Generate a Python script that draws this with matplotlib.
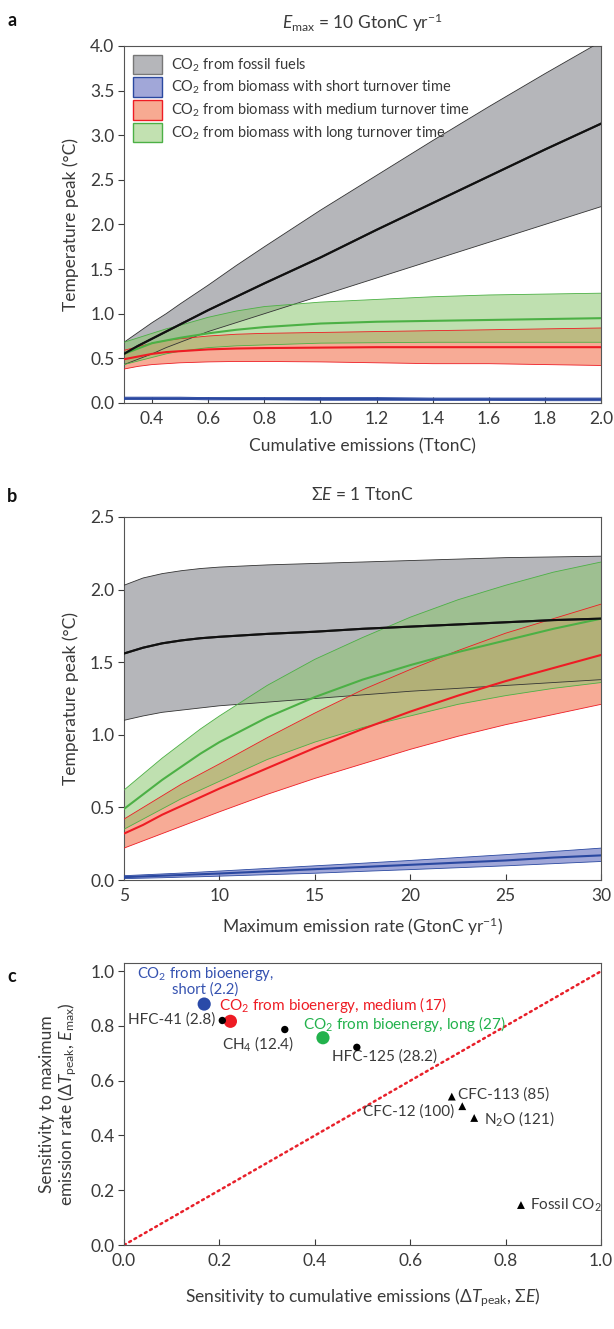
import matplotlib
matplotlib.use("Agg")
import matplotlib.pyplot as plt
from matplotlib.patches import Patch
import numpy as np

plt.rcParams["font.family"] = ["Lato", "DejaVu Sans"]
plt.rcParams["mathtext.fontset"] = "custom"
plt.rcParams["mathtext.rm"] = "Lato"
plt.rcParams["mathtext.it"] = "Lato:italic"
plt.rcParams["mathtext.bf"] = "Lato:bold"

# ── panel a: Emax = 10 GtonC/yr, x = cumulative emissions (TtonC) ────────────
xa = [0.3, 0.35, 0.4, 0.45, 0.5, 0.6, 0.7, 0.8, 1.0, 1.2, 1.4, 1.6, 1.8, 2.0]
a_fossil_mid = [0.55, 0.64, 0.72, 0.80, 0.88, 1.04, 1.19, 1.34, 1.63, 1.94, 2.24, 2.54, 2.84, 3.13]
a_fossil_lo  = [0.43, 0.49, 0.55, 0.62, 0.68, 0.80, 0.90, 1.00, 1.20, 1.40, 1.60, 1.80, 2.00, 2.20]
a_fossil_hi  = [0.68, 0.79, 0.90, 1.00, 1.11, 1.32, 1.54, 1.75, 2.16, 2.55, 2.94, 3.32, 3.69, 4.05]
a_short_mid  = [0.05, 0.05, 0.05, 0.05, 0.05, 0.05, 0.045, 0.045, 0.045, 0.045, 0.04, 0.04, 0.04, 0.04]
a_short_lo   = [0.04, 0.04, 0.04, 0.04, 0.04, 0.035, 0.035, 0.035, 0.03, 0.03, 0.03, 0.03, 0.025, 0.025]
a_short_hi   = [0.065, 0.065, 0.065, 0.065, 0.065, 0.06, 0.06, 0.06, 0.06, 0.06, 0.055, 0.055, 0.055, 0.055]
a_med_mid    = [0.49, 0.52, 0.55, 0.57, 0.58, 0.60, 0.61, 0.615, 0.62, 0.625, 0.625, 0.625, 0.625, 0.625]
a_med_lo     = [0.38, 0.41, 0.43, 0.44, 0.45, 0.46, 0.465, 0.465, 0.46, 0.45, 0.44, 0.44, 0.43, 0.42]
a_med_hi     = [0.59, 0.63, 0.67, 0.70, 0.72, 0.75, 0.77, 0.78, 0.79, 0.80, 0.81, 0.82, 0.83, 0.84]
a_long_mid   = [0.55, 0.61, 0.67, 0.70, 0.73, 0.78, 0.82, 0.85, 0.89, 0.91, 0.92, 0.93, 0.94, 0.95]
a_long_lo    = [0.43, 0.47, 0.51, 0.55, 0.58, 0.62, 0.64, 0.65, 0.67, 0.675, 0.68, 0.68, 0.68, 0.68]
a_long_hi    = [0.68, 0.73, 0.78, 0.83, 0.87, 0.96, 1.03, 1.08, 1.13, 1.16, 1.19, 1.21, 1.22, 1.23]

# ── panel b: sum E = 1 TtonC, x = max emission rate (GtonC/yr) ───────────────
xb = [5, 6, 7, 8, 9, 10, 12.5, 15, 17.5, 20, 22.5, 25, 27.5, 30]
b_fossil_mid = [1.56, 1.60, 1.63, 1.65, 1.665, 1.675, 1.695, 1.71, 1.73, 1.745, 1.76, 1.775, 1.79, 1.80]
b_fossil_lo  = [1.10, 1.13, 1.155, 1.17, 1.185, 1.20, 1.225, 1.25, 1.275, 1.30, 1.32, 1.34, 1.36, 1.38]
b_fossil_hi  = [2.03, 2.08, 2.11, 2.13, 2.145, 2.155, 2.17, 2.18, 2.19, 2.20, 2.21, 2.22, 2.225, 2.23]
b_short_mid  = [0.02, 0.025, 0.03, 0.035, 0.04, 0.045, 0.06, 0.075, 0.09, 0.105, 0.12, 0.135, 0.155, 0.17]
b_short_lo   = [0.01, 0.013, 0.016, 0.02, 0.023, 0.027, 0.037, 0.047, 0.06, 0.072, 0.085, 0.098, 0.113, 0.128]
b_short_hi   = [0.03, 0.036, 0.042, 0.048, 0.055, 0.062, 0.08, 0.098, 0.116, 0.135, 0.155, 0.175, 0.197, 0.22]
b_med_mid    = [0.32, 0.38, 0.45, 0.51, 0.57, 0.63, 0.77, 0.91, 1.04, 1.16, 1.27, 1.37, 1.46, 1.55]
b_med_lo     = [0.22, 0.27, 0.32, 0.37, 0.42, 0.47, 0.59, 0.70, 0.80, 0.90, 0.99, 1.07, 1.14, 1.21]
b_med_hi     = [0.42, 0.50, 0.58, 0.66, 0.73, 0.80, 0.98, 1.15, 1.31, 1.45, 1.58, 1.70, 1.80, 1.90]
b_long_mid   = [0.49, 0.59, 0.69, 0.78, 0.87, 0.95, 1.12, 1.26, 1.38, 1.48, 1.57, 1.65, 1.73, 1.80]
b_long_lo    = [0.35, 0.42, 0.49, 0.56, 0.62, 0.68, 0.83, 0.95, 1.05, 1.13, 1.21, 1.27, 1.32, 1.36]
b_long_hi    = [0.62, 0.73, 0.84, 0.94, 1.04, 1.13, 1.34, 1.52, 1.67, 1.81, 1.93, 2.03, 2.12, 2.19]

# ── panel c: sensitivities ──────────────────────────────────────────────────
bio_names = ["short", "medium", "long"]
bio_x = [0.168, 0.223, 0.417]
bio_y = [0.880, 0.817, 0.757]
dot_names = ["HFC-41 (2.8)", "CH$_4$ (12.4)", "HFC-125 (28.2)"]
dot_x = [0.206, 0.337, 0.488]
dot_y = [0.820, 0.787, 0.722]
tri_names = ["CFC-113 (85)", "CFC-12 (100)", "N$_2$O (121)", "Fossil CO$_2$"]
tri_x = [0.687, 0.709, 0.734, 0.832]
tri_y = [0.542, 0.507, 0.464, 0.146]

GRAY_F, GRAY_E = "#b5b6ba", "#333333"
BLUE_F, BLUE_L = "#7f88cc", "#2a48a0"
RED_F, RED_L = "#f4886a", "#ee1c24"
GRN_F, GRN_L = "#8cc870", "#4cb045"
TXT = "#3a3a3a"


def bands(ax, x, sets):
    # sets: (lo, mid, hi, face, line, alpha)
    for lo, mid, hi, face, line, alpha in sets:
        ax.fill_between(x, lo, hi, facecolor=face, alpha=alpha,
                        edgecolor="none", zorder=2)
        ax.plot(x, lo, color=line, lw=0.6, zorder=3)
        ax.plot(x, hi, color=line, lw=0.6, zorder=3)
    for lo, mid, hi, face, line, alpha in sets:
        ax.plot(x, mid, color=line, lw=1.5, zorder=4)


def style(ax):
    for s in ax.spines.values():
        s.set_color("#555555")
        s.set_linewidth(0.8)
    ax.tick_params(axis="x", direction="in", length=4, labelsize=12.5,
                   colors=TXT, pad=6, width=0.8)
    ax.tick_params(axis="y", direction="out", length=4, labelsize=12.5,
                   colors=TXT, pad=3, width=0.8)


fig = plt.figure(figsize=(6.14, 13.29), dpi=100)

# panel a
ax1 = fig.add_axes([0.202, 0.6968, 0.777, 0.2686])
bands(ax1, xa, [
    (a_fossil_lo, a_fossil_mid, a_fossil_hi, GRAY_F, GRAY_E, 1.0),
    (a_short_lo, a_short_mid, a_short_hi, BLUE_F, BLUE_L, 0.75),
    (a_med_lo, a_med_mid, a_med_hi, RED_F, RED_L, 0.7),
    (a_long_lo, a_long_mid, a_long_hi, GRN_F, GRN_L, 0.55),
])
ax1.plot(xa, a_fossil_mid, color="#111111", lw=1.5, zorder=5)
ax1.set_xlim(0.3, 2.0)
ax1.set_ylim(0, 4.0)
ax1.set_xticks(np.arange(0.4, 2.01, 0.2))
ax1.set_yticks(np.arange(0, 4.01, 0.5))
ax1.xaxis.set_major_formatter(plt.FormatStrFormatter("%.1f"))
ax1.yaxis.set_major_formatter(plt.FormatStrFormatter("%.1f"))
style(ax1)
ax1.set_xlabel("Cumulative emissions (TtonC)", fontsize=12.5, color=TXT, labelpad=8)
ax1.set_ylabel("Temperature peak (°C)", fontsize=12.5, color=TXT, labelpad=8)
ax1.set_title(r"$E_{\rm max}$ = 10 GtonC yr$^{-1}$", fontsize=12.5, color=TXT, pad=12)
handles = [
    Patch(facecolor=GRAY_F, edgecolor="#777777", label="CO$_2$ from fossil fuels"),
    Patch(facecolor="#a1a7d8", edgecolor=BLUE_L, label="CO$_2$ from biomass with short turnover time"),
    Patch(facecolor="#f7aa92", edgecolor=RED_L, label="CO$_2$ from biomass with medium turnover time"),
    Patch(facecolor="#c2e1b1", edgecolor=GRN_L, label="CO$_2$ from biomass with long turnover time"),
]
leg = ax1.legend(handles=handles, loc="upper left", frameon=False, fontsize=10.5,
                 handlelength=2.0, handleheight=1.7, labelspacing=0.2,
                 borderaxespad=0.2, handletextpad=0.6)
for t in leg.get_texts():
    t.set_color(TXT)

# panel b
ax2 = fig.add_axes([0.202, 0.3378, 0.777, 0.2732])
bands(ax2, xb, [
    (b_fossil_lo, b_fossil_mid, b_fossil_hi, GRAY_F, GRAY_E, 1.0),
    (b_short_lo, b_short_mid, b_short_hi, BLUE_F, BLUE_L, 0.75),
    (b_med_lo, b_med_mid, b_med_hi, RED_F, RED_L, 0.7),
    (b_long_lo, b_long_mid, b_long_hi, GRN_F, GRN_L, 0.55),
])
ax2.plot(xb, b_fossil_mid, color="#111111", lw=1.5, zorder=5)
ax2.set_xlim(5, 30)
ax2.set_ylim(0, 2.5)
ax2.set_xticks(np.arange(5, 31, 5))
ax2.set_yticks(np.arange(0, 2.51, 0.5))
ax2.yaxis.set_major_formatter(plt.FormatStrFormatter("%.1f"))
style(ax2)
ax2.set_xlabel("Maximum emission rate (GtonC yr$^{-1}$)", fontsize=12.5, color=TXT, labelpad=8)
ax2.set_ylabel("Temperature peak (°C)", fontsize=12.5, color=TXT, labelpad=8)
ax2.set_title(r"$\Sigma E$ = 1 TtonC", fontsize=12.5, color=TXT, pad=12)

# panel c
ax3 = fig.add_axes([0.202, 0.0632, 0.777, 0.2122])
ax3.plot([0, 1], [0, 1], color="#e8202a", lw=1.8, ls=(0, (0.8, 1.6)),
         dash_capstyle="round", zorder=2)
ax3.scatter(bio_x, bio_y, s=90, c=["#2a4aa8", "#ee1c24", "#22b24c"], zorder=4,
            edgecolors="none")
ax3.scatter(dot_x, dot_y, s=28, c="black", zorder=4, edgecolors="none")
ax3.scatter(tri_x, tri_y, s=32, c="black", marker="^", zorder=4, edgecolors="none")
fs = 11
ax3.text(0.17, 0.990, "CO$_2$ from bioenergy,", ha="center", va="center",
         color="#3552b0", fontsize=10.7)
ax3.text(0.17, 0.934, "short (2.2)", ha="center", va="center",
         color="#3552b0", fontsize=10.7)
ax3.text(0.200, 0.878, "CO$_2$ from bioenergy, medium (17)", ha="left", va="center",
         color="#ee1c24", fontsize=fs)
ax3.text(0.376, 0.806, "CO$_2$ from bioenergy, long (27)", ha="left", va="center",
         color="#22b24c", fontsize=fs)
ax3.text(0.192, 0.822, dot_names[0], ha="right", va="center", color=TXT, fontsize=fs)
ax3.text(0.205, 0.736, dot_names[1], ha="left", va="center", color=TXT, fontsize=fs)
ax3.text(0.436, 0.688, dot_names[2], ha="left", va="center", color=TXT, fontsize=fs)
ax3.text(0.700, 0.551, tri_names[0], ha="left", va="center", color=TXT, fontsize=fs)
ax3.text(0.693, 0.488, tri_names[1], ha="right", va="center", color=TXT, fontsize=fs)
ax3.text(0.755, 0.460, tri_names[2], ha="left", va="center", color=TXT, fontsize=fs)
ax3.text(0.851, 0.145, tri_names[3], ha="left", va="center", color=TXT, fontsize=fs)
ax3.set_xlim(0, 1.0)
ax3.set_ylim(0, 1.03)
ax3.set_xticks(np.arange(0, 1.01, 0.2))
ax3.set_yticks(np.arange(0, 1.01, 0.2))
ax3.xaxis.set_major_formatter(plt.FormatStrFormatter("%.1f"))
ax3.yaxis.set_major_formatter(plt.FormatStrFormatter("%.1f"))
style(ax3)
ax3.set_xlabel(r"Sensitivity to cumulative emissions ($\Delta T_{\rm peak}$, $\Sigma E$)",
               fontsize=12.5, color=TXT, labelpad=12)
ax3.set_ylabel("Sensitivity to maximum\n" r"emission rate ($\Delta T_{\rm peak}$, $E_{\rm max}$)",
               fontsize=12.5, color=TXT, labelpad=8, linespacing=1.1)

# panel letters
for y, letter in [(0.991, "a"), (0.633, "b"), (0.272, "c")]:
    fig.text(0.012, y, letter, fontsize=13, fontweight="bold", va="top", color="#111111")

fig.savefig("out.png", dpi=100, facecolor="white")
